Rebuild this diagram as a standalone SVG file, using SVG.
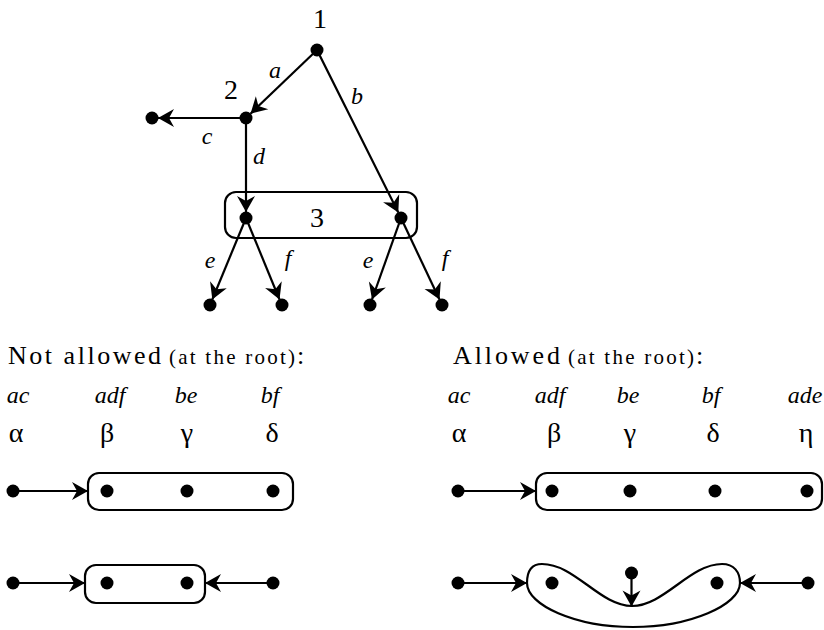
<svg xmlns="http://www.w3.org/2000/svg" width="824" height="630" viewBox="0 0 824 630">
<defs>
<style>
.ln{stroke:#000;stroke-width:2.2;fill:none}
.bx{stroke:#000;stroke-width:2.2;fill:none}
.dot{fill:#000}
text{fill:#000}
.num{font-size:28px;text-anchor:middle}
.it{font-style:italic;font-size:24px;text-anchor:middle}
.gr{font-size:28px;text-anchor:middle}
.hd{font-size:26px}
.sm{font-size:21px}
</style>
<marker id="ah" viewBox="-1 -10 19 20" refX="16" refY="0" markerWidth="19" markerHeight="20" markerUnits="userSpaceOnUse" orient="auto">
<path d="M0,-9 L16,0 L0,9 L5,0 Z" fill="#000"/>
</marker>
</defs>
<rect width="824" height="630" fill="#fff"/>

<g id="connectors">
<line class="ln" x1="317" y1="50" x2="250.5" y2="113.7" marker-end="url(#ah)"/>
<line class="ln" x1="317" y1="50" x2="398.3" y2="212.6" marker-end="url(#ah)"/>
<line class="ln" x1="246" y1="118" x2="158" y2="118" marker-end="url(#ah)"/>
<line class="ln" x1="246" y1="118" x2="246" y2="212" marker-end="url(#ah)"/>
<line class="ln" x1="246" y1="218" x2="212.3" y2="299.5" marker-end="url(#ah)"/>
<line class="ln" x1="246" y1="218" x2="279.5" y2="299.5" marker-end="url(#ah)"/>
<line class="ln" x1="401" y1="218" x2="372" y2="299.5" marker-end="url(#ah)"/>
<line class="ln" x1="401" y1="218" x2="439.5" y2="299.5" marker-end="url(#ah)"/>
<line class="ln" x1="13" y1="491" x2="88" y2="491" marker-end="url(#ah)"/>
<line class="ln" x1="13" y1="583" x2="85" y2="583" marker-end="url(#ah)"/>
<line class="ln" x1="273" y1="583" x2="205" y2="583" marker-end="url(#ah)"/>
<line class="ln" x1="458" y1="491" x2="536" y2="491" marker-end="url(#ah)"/>
<line class="ln" x1="458" y1="583" x2="527" y2="583" marker-end="url(#ah)"/>
<line class="ln" x1="808" y1="583" x2="740" y2="583" marker-end="url(#ah)"/>
<line class="ln" x1="631.5" y1="573" x2="631.5" y2="606.5" marker-end="url(#ah)"/>
</g>

<g font-family="'Liberation Serif', 'Times New Roman', 'DejaVu Serif', serif">
<g id="tree">
<g id="n1"><circle class="dot" cx="317" cy="50" r="6.5"/><text class="num" x="320" y="28">1</text></g>
<g id="n2"><circle class="dot" cx="246" cy="118" r="6.5"/><text class="num" x="231" y="99">2</text></g>
<g id="nc"><circle class="dot" cx="152" cy="118" r="6.5"/></g>
<g id="n3"><rect class="bx" x="225" y="192" width="192" height="46" rx="11"/><circle class="dot" cx="246" cy="218" r="6.5"/><circle class="dot" cx="401" cy="218" r="6.5"/><text class="num" x="317" y="227">3</text></g>
<g id="leaves">
<circle class="dot" cx="210" cy="305" r="6.5"/><circle class="dot" cx="282" cy="305" r="6.5"/>
<circle class="dot" cx="370" cy="305" r="6.5"/><circle class="dot" cx="442" cy="305" r="6.5"/>
</g>
<g id="edge-labels">
<text class="it" x="275" y="78">a</text>
<text class="it" x="357" y="104">b</text>
<text class="it" x="207" y="144">c</text>
<text class="it" x="259" y="164">d</text>
<text class="it" x="210" y="268">e</text>
<text class="it" x="288" y="266">f</text>
<text class="it" x="368" y="268">e</text>
<text class="it" x="445" y="266">f</text>
</g>
</g>

<g id="not-allowed">
<text class="hd" x="8" y="364" textLength="153" lengthAdjust="spacing">Not allowed</text>
<text class="sm" x="169" y="364" textLength="126" lengthAdjust="spacing">(at the root)</text>
<text class="hd" x="297" y="364">:</text>
<text class="it" x="18" y="403">ac</text>
<text class="it" x="110" y="403">adf</text>
<text class="it" x="186" y="403">be</text>
<text class="it" x="270" y="403">bf</text>
<text class="gr" x="16" y="442">α</text>
<text class="gr" x="107" y="442">β</text>
<text class="gr" x="187" y="442">γ</text>
<text class="gr" x="272" y="442">δ</text>
<g id="na-row1">
<circle class="dot" cx="13" cy="491" r="6.5"/>
<rect class="bx" x="88" y="473" width="205" height="37" rx="11"/>
<circle class="dot" cx="107" cy="491" r="6.5"/><circle class="dot" cx="187" cy="491" r="6.5"/><circle class="dot" cx="273" cy="491" r="6.5"/>
</g>
<g id="na-row2">
<circle class="dot" cx="13" cy="583" r="6.5"/>
<rect class="bx" x="85" y="565" width="120" height="38" rx="11"/>
<circle class="dot" cx="107" cy="583" r="6.5"/><circle class="dot" cx="187" cy="583" r="6.5"/>
<circle class="dot" cx="273" cy="583" r="6.5"/>
</g>
</g>

<g id="allowed">
<text class="hd" x="453" y="364" textLength="107" lengthAdjust="spacing">Allowed</text>
<text class="sm" x="568" y="364" textLength="126" lengthAdjust="spacing">(at the root)</text>
<text class="hd" x="696" y="364">:</text>
<text class="it" x="459" y="403">ac</text>
<text class="it" x="550" y="403">adf</text>
<text class="it" x="628" y="403">be</text>
<text class="it" x="711" y="403">bf</text>
<text class="it" x="805" y="403">ade</text>
<text class="gr" x="459" y="442">α</text>
<text class="gr" x="554" y="442">β</text>
<text class="gr" x="630" y="442">γ</text>
<text class="gr" x="713" y="442">δ</text>
<text class="gr" x="806" y="442">η</text>
<g id="a-row1">
<circle class="dot" cx="458" cy="491" r="6.5"/>
<rect class="bx" x="536" y="473" width="286" height="37" rx="11"/>
<circle class="dot" cx="552" cy="491" r="6.5"/><circle class="dot" cx="630" cy="491" r="6.5"/><circle class="dot" cx="715" cy="491" r="6.5"/><circle class="dot" cx="807" cy="491" r="6.5"/>
</g>
<g id="a-row2">
<circle class="dot" cx="458" cy="583" r="6.5"/>
<path class="bx" d="M527,583 C527,570 532,564 542,564 C575,564 600,606 632,606 C664,606 690,564 722,564 C734,564 740,572 740,583 C740,605 690,627 633,627 C575,627 527,605 527,583 Z"/>
<circle class="dot" cx="552" cy="583" r="6.5"/><circle class="dot" cx="717" cy="583" r="6.5"/>
<circle class="dot" cx="631.5" cy="573" r="6.5"/>
<circle class="dot" cx="808" cy="583" r="6.5"/>
</g>
</g>
</g>
</svg>
